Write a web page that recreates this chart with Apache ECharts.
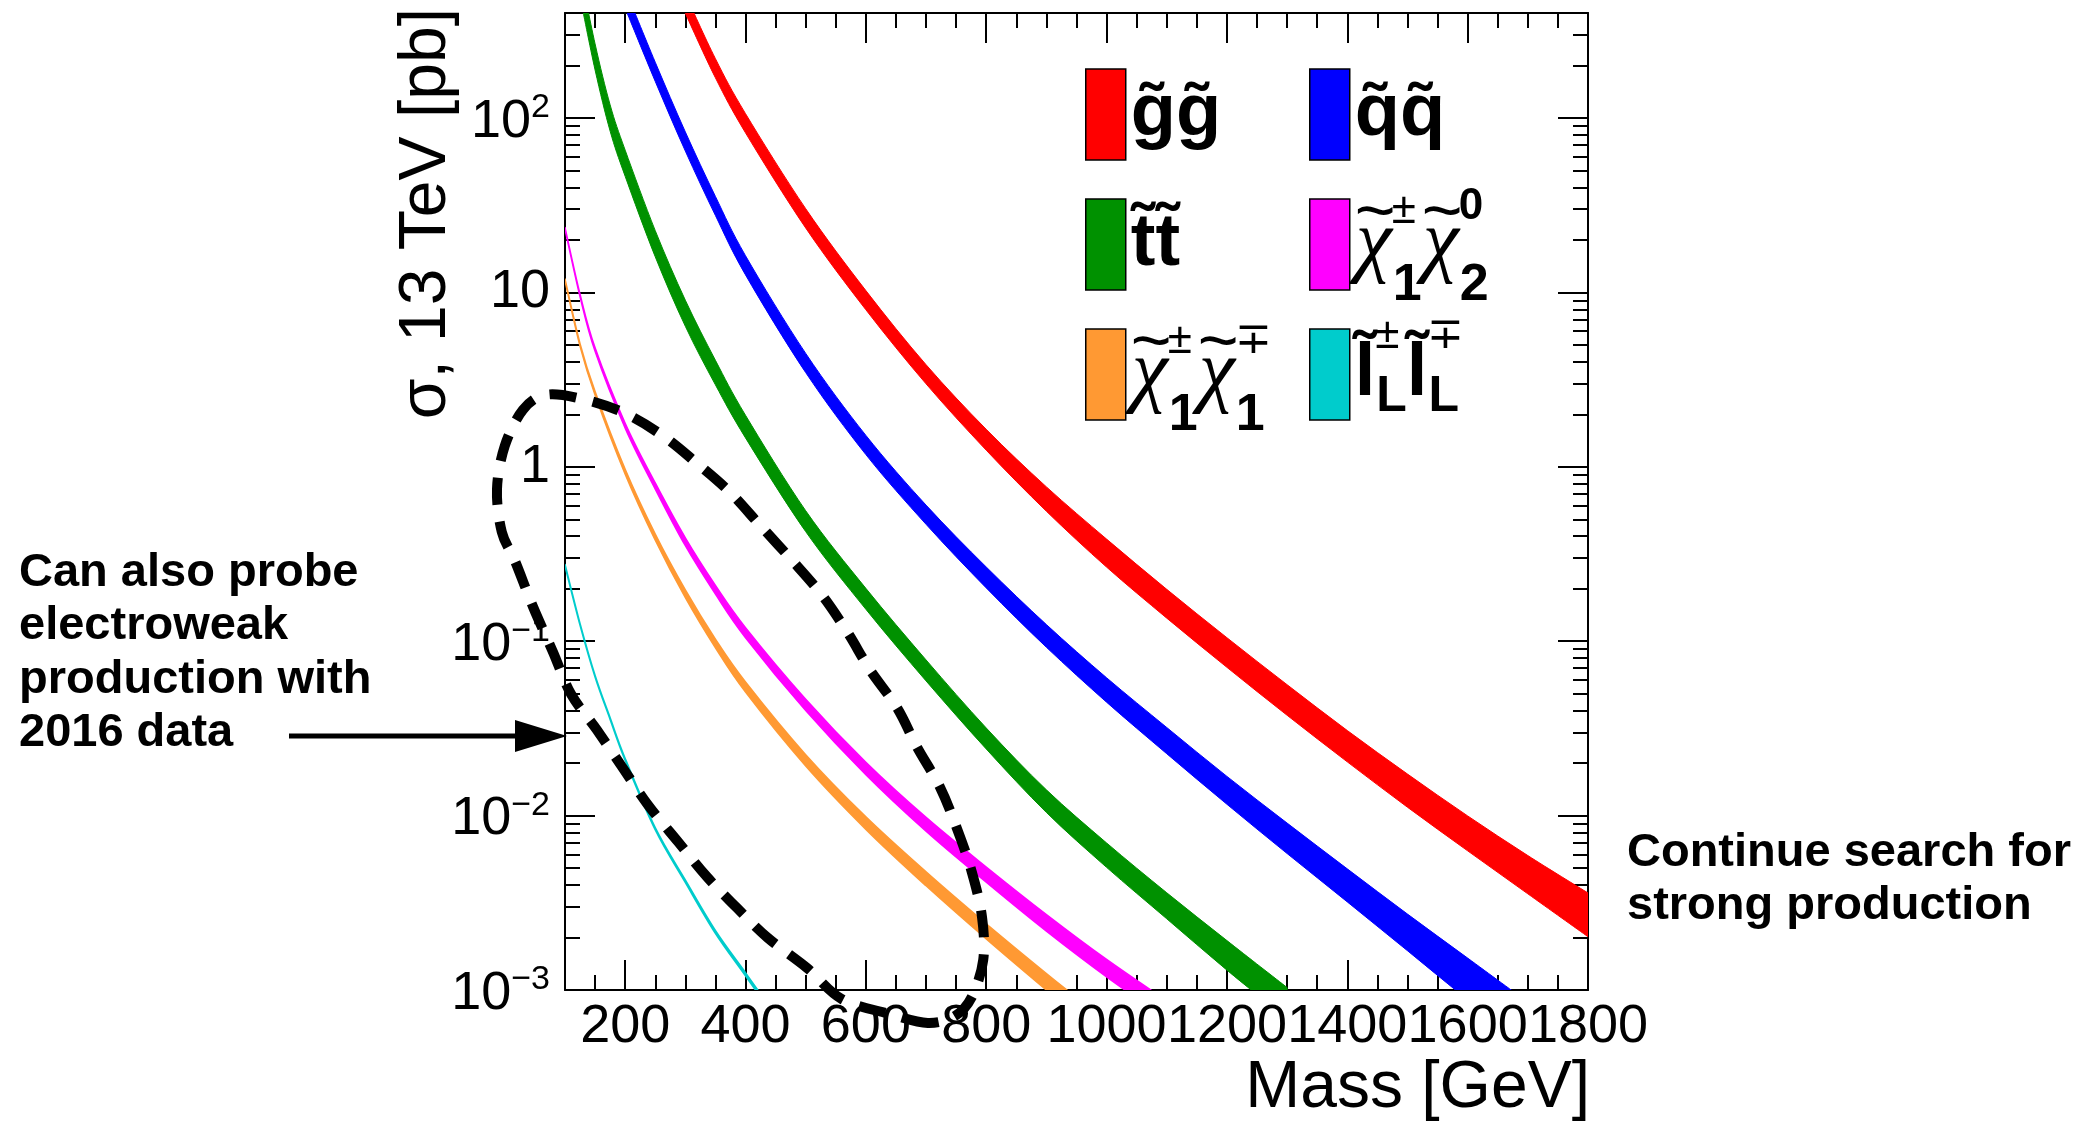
<!DOCTYPE html>
<html>
<head>
<meta charset="utf-8">
<script src="https://cdn.jsdelivr.net/npm/echarts@6/dist/echarts.min.js"></script>
<style>
html,body{margin:0;padding:0;background:#ffffff;}
#c{width:2095px;height:1127px;}
</style>
</head>
<body>
<div id="c"></div>
<script>
// ---------------- data ----------------
// gluino pair  (g~g~)
const gluinoMass = [300,350,400,500,600,700,800,900,1000,1100,1200,1300,1400,1500,1600,1700,1800];
const gluinoLow  = [398,169.9,82.2,23.4,7.95,2.99,1.245,0.556,0.266,0.1356,0.0708,0.0376,0.02033,0.01117,0.00628,0.00356,0.00202];
const gluinoHigh = [513,218.8,105.9,30.2,10.24,3.85,1.640,0.767,0.385,0.1983,0.1047,0.0563,0.03075,0.01731,0.00996,0.00590,0.00360];
// squark pair (q~q~)
const squarkMass = [200,250,300,350,400,500,600,700,800,900,1000,1100,1200,1300,1400,1500,1600,1700];
const squarkLow  = [426,162.1,64.6,27.6,12.60,3.47,1.175,0.468,0.2021,0.0923,0.0447,0.02263,0.01161,0.00606,0.00320,0.001680,0.000877,0.000468];
const squarkHigh = [549,208.8,83.2,35.5,16.23,4.47,1.514,0.603,0.2664,0.1245,0.0617,0.0320,0.01678,0.00906,0.00495,0.002725,0.001524,0.000851];
// stop pair (t~t~)
const stopMass = [125,150,175,200,250,300,350,400,500,600,700,800,900,1000,1100,1200,1300];
const stopLow  = [496,188.5,84.1,46.3,16.0,6.39,2.95,1.464,0.425,0.1524,0.0592,0.0241,0.01042,0.00505,0.00256,0.00130,0.000683];
const stopHigh = [701,266,118.9,65.4,22.6,9.02,4.08,1.974,0.560,0.2009,0.0781,0.0318,0.01405,0.00697,0.00361,0.00192,0.001033];
// chargino-neutralino (chi1+- chi2 0)
const c1n2Mass = [100,125,150,200,250,300,350,400,500,600,700,800,900,1000,1100];
const c1n2Low  = [23.03,9.44,4.59,1.6673,0.7454,0.3527,0.1862,0.1047,0.04004,0.01714,0.00813,0.004152,0.002175,0.001189,0.000680];
const c1n2High = [23.57,9.77,4.81,1.7785,0.8079,0.3913,0.2089,0.1196,0.04650,0.02023,0.00977,0.005074,0.002708,0.001497,0.000866];
// chargino pair (chi1+- chi1-+)
const c1c1Mass = [100,125,150,200,250,300,350,400,500,600,700,800,900,950];
const c1c1Low  = [11.66,4.914,2.580,0.9073,0.3794,0.1776,0.0916,0.05107,0.01925,0.00834,0.003958,0.001963,0.000999,0.000719];
const c1c1High = [11.94,5.087,2.701,0.9677,0.4112,0.1969,0.1028,0.05837,0.02236,0.00984,0.004759,0.002399,0.001243,0.000905];
// left-handed slepton pair (l~L l~L)
const slepMass = [100,125,150,175,200,250,300,350,400,450];
const slepLow  = [0.2717,0.1243,0.0626,0.03575,0.02081,0.008304,0.004142,0.002116,0.001208,0.000686];
const slepHigh = [0.2743,0.1257,0.0634,0.03625,0.02119,0.008497,0.004259,0.002185,0.001253,0.000715];
// dashed loop annotation (mass, sigma), closed
const loopMass  = [703,640,560,502,437,386,336,288,238,195,153,110,80,47,17,-5,-13,0,30,67,122,195,261,319,374,424,477,527,569,607,652,685,723,751,776,793,795,776,748];
const loopSigma = [0.000647,0.000728,0.000887,0.00134,0.00199,0.00295,0.00445,0.00706,0.0115,0.0190,0.0310,0.0498,0.0867,0.157,0.288,0.423,0.746,1.32,2.12,2.58,2.48,2.06,1.52,1.05,0.716,0.463,0.292,0.184,0.113,0.0684,0.0414,0.0247,0.0146,0.00849,0.00475,0.00262,0.00149,0.000912,0.000710];
// arrow target on the sigma axis
const arrowMass = 100;
const arrowSigma = 0.0286;
// ticks
const xTickValues = [200,400,600,800,1000,1200,1400,1600,1800];
const xMinorTickValues = [150,250,300,350,450,500,550,650,700,750,850,900,950,1050,1100,1150,1250,1300,1350,1450,1500,1550,1650,1700,1750];
const yTickValues = [0.001,0.01,0.1,1,10,100];
const yTickBase = ['10','10','10','1','10','10'];
const yTickExp  = ['\u22123','\u22122','\u22121','','','2'];
const yMinorTickValues = [0.002,0.003,0.004,0.005,0.006,0.007,0.008,0.009,
  0.02,0.03,0.04,0.05,0.06,0.07,0.08,0.09,
  0.2,0.3,0.4,0.5,0.6,0.7,0.8,0.9,
  2,3,4,5,6,7,8,9,
  20,30,40,50,60,70,80,90,200,300];
// texts
const xTitle = 'Mass [GeV]';
const yTitle = '\u03c3, 13 TeV [pb]';
const noteLeft = 'Can also probe\nelectroweak\nproduction with\n2016 data';
const noteRight = 'Continue search for\nstrong production';

// ---------------- chart ----------------
const FONT = 'Liberation Sans';
const chart = echarts.init(document.getElementById('c'), null, {renderer:'canvas', width:2095, height:1127});

function f2(v){ return v.toFixed(2); }
// Catmull-Rom spline through pixel points (open)
function spline(p, start){
  let d = start + f2(p[0][0]) + ' ' + f2(p[0][1]);
  for (let i = 0; i < p.length - 1; i++){
    const p0 = p[Math.max(i-1,0)], p1 = p[i], p2 = p[i+1], p3 = p[Math.min(i+2,p.length-1)];
    const c1x = p1[0] + (p2[0]-p0[0])/6, c1y = p1[1] + (p2[1]-p0[1])/6;
    const c2x = p2[0] - (p3[0]-p1[0])/6, c2y = p2[1] - (p3[1]-p1[1])/6;
    d += ' C' + f2(c1x) + ' ' + f2(c1y) + ' ' + f2(c2x) + ' ' + f2(c2y) + ' ' + f2(p2[0]) + ' ' + f2(p2[1]);
  }
  return d;
}
// closed Catmull-Rom spline
function closedSpline(p){
  const n = p.length;
  let d = 'M' + f2(p[0][0]) + ' ' + f2(p[0][1]);
  for (let i = 0; i < n; i++){
    const p0 = p[(i-1+n)%n], p1 = p[i], p2 = p[(i+1)%n], p3 = p[(i+2)%n];
    const c1x = p1[0] + (p2[0]-p0[0])/6, c1y = p1[1] + (p2[1]-p0[1])/6;
    const c2x = p2[0] - (p3[0]-p1[0])/6, c2y = p2[1] - (p3[1]-p1[1])/6;
    d += ' C' + f2(c1x) + ' ' + f2(c1y) + ' ' + f2(c2x) + ' ' + f2(c2y) + ' ' + f2(p2[0]) + ' ' + f2(p2[1]);
  }
  return d + ' Z';
}

function bandSeries(name, color, ms, lo, hi, w){
  return {
    name:name, type:'custom', coordinateSystem:'cartesian2d', xAxisIndex:0, yAxisIndex:0,
    clip:true, silent:true, animation:false, z:3,
    itemStyle:{color:color},
    data: ms.map((m,i)=>[m, lo[i], hi[i]]),
    encode:{x:0, y:[1,2]},
    renderItem:function(params, api){
      if (params.dataIndex !== 0) return null;
      const up = ms.map((m,i)=>api.coord([m, hi[i]]));
      const dn = ms.map((m,i)=>api.coord([m, lo[i]])).reverse();
      const d = spline(up, 'M') + ' ' + spline(dn, 'L') + ' Z';
      return {type:'path', shape:{pathData:d}, style:{fill:color, stroke:color, lineWidth:w, lineJoin:'round'}};
    }
  };
}

const RED='#ff0000', BLUE='#0000ff', GREEN='#009100', MAG='#ff00ff', ORANGE='#ff9933', CYAN='#00cccc';

const series = [
  bandSeries('gg', RED, gluinoMass, gluinoLow, gluinoHigh, 1),
  bandSeries('qq', BLUE, squarkMass, squarkLow, squarkHigh, 1),
  bandSeries('tt', GREEN, stopMass, stopLow, stopHigh, 1),
  bandSeries('c1n2', MAG, c1n2Mass, c1n2Low, c1n2High, 1.5),
  bandSeries('c1c1', ORANGE, c1c1Mass, c1c1Low, c1c1High, 1.5),
  bandSeries('slep', CYAN, slepMass, slepLow, slepHigh, 1.8),
  {
    name:'loop', type:'custom', coordinateSystem:'cartesian2d', xAxisIndex:0, yAxisIndex:0,
    clip:false, silent:true, animation:false, z:10,
    data: loopMass.map((m,i)=>[m, loopSigma[i]]),
    encode:{x:0, y:1},
    renderItem:function(params, api){
      if (params.dataIndex !== 0) return null;
      const pts = loopMass.map((m,i)=>api.coord([m, loopSigma[i]]));
      return {type:'path', shape:{pathData:closedSpline(pts)},
        style:{fill:'none', stroke:'#000', lineWidth:10, lineDash:[27,17], lineCap:'butt'}};
    }
  }
];

function xAx(pos, ticks, len, showLine, showLabel){
  return {type:'value', position:pos, min:100, max:1800, gridIndex:0,
    axisLine:{show:showLine, onZero:false, lineStyle:{color:'#000', width:2}},
    axisTick:{show:true, inside:true, length:len, customValues:ticks, lineStyle:{color:'#000', width:2}},
    axisLabel: showLabel ? {show:true, customValues:xTickValues, fontSize:54, fontFamily:FONT, color:'#000',
      margin:10, hideOverlap:false, showMinLabel:true, showMaxLabel:true,
      formatter:function(v){ return String(v); }} : {show:false},
    splitLine:{show:false}, minorTick:{show:false}};
}
function yLabelFmt(v){
  const i = yTickValues.findIndex(t => Math.abs(Math.log10(t) - Math.log10(v)) < 1e-6);
  if (i < 0) return '';
  return yTickExp[i] ? '{b|' + yTickBase[i] + '}{s|' + yTickExp[i] + '}' : '{n|' + yTickBase[i] + '}';
}
function yAx(pos, ticks, len, showLine, showLabel){
  return {type:'log', logBase:10, position:pos, min:0.001, max:400, gridIndex:0,
    axisLine:{show:showLine, onZero:false, lineStyle:{color:'#000', width:2}},
    axisTick:{show:true, inside:true, length:len, customValues:ticks, lineStyle:{color:'#000', width:2}},
    axisLabel: showLabel ? {show:true, customValues:yTickValues, margin:15, formatter:yLabelFmt, hideOverlap:false,
      showMinLabel:true, showMaxLabel:true,
      rich:{
        n:{fontSize:54, fontFamily:FONT, color:'#000', lineHeight:54},
        b:{fontSize:54, fontFamily:FONT, color:'#000', lineHeight:54, padding:[8,0,0,0]},
        s:{fontSize:34, fontFamily:FONT, color:'#000', lineHeight:34, verticalAlign:'top'}
      }} : {show:false},
    splitLine:{show:false}, minorTick:{show:false}};
}

// legend label styles: main tokens fill the 91px line box; sub/superscripts get a small
// explicit token height pinned to the top / bottom of the line so they sit high / low.
// hT / hB are invisible copies of the most extreme tokens, added to every label so that
// all legend items get the same bounding box (and therefore the same spacing).
const CLEAR = 'rgba(0,0,0,0)';
const richLegend = {
  big:{fontFamily:FONT, fontWeight:'bold', fontSize:74, lineHeight:91, color:'#000'},
  chi:{fontFamily:'Liberation Serif', fontStyle:'italic', fontSize:82, lineHeight:91, color:'#000'},
  tl:{fontFamily:FONT, fontSize:70, height:31, lineHeight:31, verticalAlign:'top', width:1, color:'#000'},
  sp:{fontFamily:FONT, fontSize:44, height:24, lineHeight:24, verticalAlign:'top', width:1, color:'#000'},
  sp0:{fontFamily:FONT, fontWeight:'bold', fontSize:44, height:16, lineHeight:16, verticalAlign:'top', width:1, color:'#000'},
  spl:{fontFamily:FONT, fontSize:44, height:14, lineHeight:14, verticalAlign:'top', width:1, color:'#000'},
  sb:{fontFamily:FONT, fontWeight:'bold', fontSize:52, height:8, lineHeight:8, verticalAlign:'bottom', color:'#000'},
  sbL:{fontFamily:FONT, fontWeight:'bold', fontSize:50, height:45, lineHeight:45, verticalAlign:'bottom', color:'#000'},
  hT:{fontFamily:FONT, fontSize:70, height:31, lineHeight:31, verticalAlign:'top', width:1, color:CLEAR},
  hB:{fontFamily:FONT, fontWeight:'bold', fontSize:52, height:8, lineHeight:8, verticalAlign:'bottom', width:1, color:CLEAR}
};
const HIDDEN = '{hT|~}{hB|1}';
const legendLabels = {
  gg:'{big|g\u0303g\u0303}' + HIDDEN,
  qq:'{big|q\u0303q\u0303}' + HIDDEN,
  tt:'{big|t\u0303t\u0303}' + HIDDEN,
  c1n2:'{tl|~}{chi|\u03c7}{sp|\u00b1}{sb|1}{tl|~}{chi|\u03c7}{sp0|0}{sb|2}' + HIDDEN,
  c1c1:'{tl|~}{chi|\u03c7}{sp|\u00b1}{sb|1}{tl|~}{chi|\u03c7}{sp|\u2213}{sb|1}' + HIDDEN,
  slep:'{big|l\u0303}{spl|\u00b1}{sbL|L}{big|l\u0303}{spl|\u2213}{sbL|L}' + HIDDEN
};
function legendCol(names, left){
  return {show:true, data:names, left:left, top:49.5, orient:'vertical', padding:0,
    itemWidth:40, itemHeight:91, itemGap:-2.5, icon:'rect', selectedMode:false,
    itemStyle:{borderColor:'#000', borderWidth:1.5},
    formatter:function(n){ return legendLabels[n]; },
    textStyle:{color:'#000', rich:richLegend}};
}

const option = {
  backgroundColor:'#ffffff',
  animation:false,
  grid:[{left:565, right:507, top:13, bottom:137, containLabel:false, outerBoundsMode:'none', show:false}],
  xAxis:[
    xAx('bottom', xTickValues, 30, true, true),
    xAx('bottom', xMinorTickValues, 15, false, false),
    xAx('top', xTickValues, 30, true, false),
    xAx('top', xMinorTickValues, 15, false, false)
  ],
  yAxis:[
    yAx('left', yTickValues, 30, true, true),
    yAx('left', yMinorTickValues, 15, false, false),
    yAx('right', yTickValues, 30, true, false),
    yAx('right', yMinorTickValues, 15, false, false)
  ],
  legend:[ legendCol(['gg','tt','c1c1'], 1085), legendCol(['qq','c1n2','slep'], 1309) ],
  series: series
};
chart.setOption(option);

const tip = chart.convertToPixel({xAxisIndex:0, yAxisIndex:0}, [arrowMass, arrowSigma]);
const tipX = tip[0] + 2, tipY = tip[1];
chart.setOption({
  graphic:[
    {type:'text', x:427, y:8, rotation:Math.PI/2, silent:true,
     style:{text:yTitle, font:'66px "Liberation Sans"', fill:'#000', align:'right', verticalAlign:'middle'}},
    {type:'text', x:1590, y:1089, silent:true,
     style:{text:xTitle, font:'66px "Liberation Sans"', fill:'#000', align:'right', verticalAlign:'middle'}},
    {type:'text', x:19, y:546, silent:true,
     style:{text:noteLeft, font:'bold 47px "Liberation Sans"', lineHeight:53.5, fill:'#000', align:'left', verticalAlign:'top'}},
    {type:'text', x:1627, y:826, silent:true,
     style:{text:noteRight, font:'bold 47px "Liberation Sans"', lineHeight:53.5, fill:'#000', align:'left', verticalAlign:'top'}},
    {type:'line', silent:true, shape:{x1:tipX-278, y1:tipY, x2:tipX-40, y2:tipY},
     style:{stroke:'#000', lineWidth:5}},
    {type:'polygon', silent:true, shape:{points:[[tipX-52, tipY-16],[tipX, tipY],[tipX-52, tipY+16]]},
     style:{fill:'#000'}}
  ]
});
</script>
</body>
</html>
